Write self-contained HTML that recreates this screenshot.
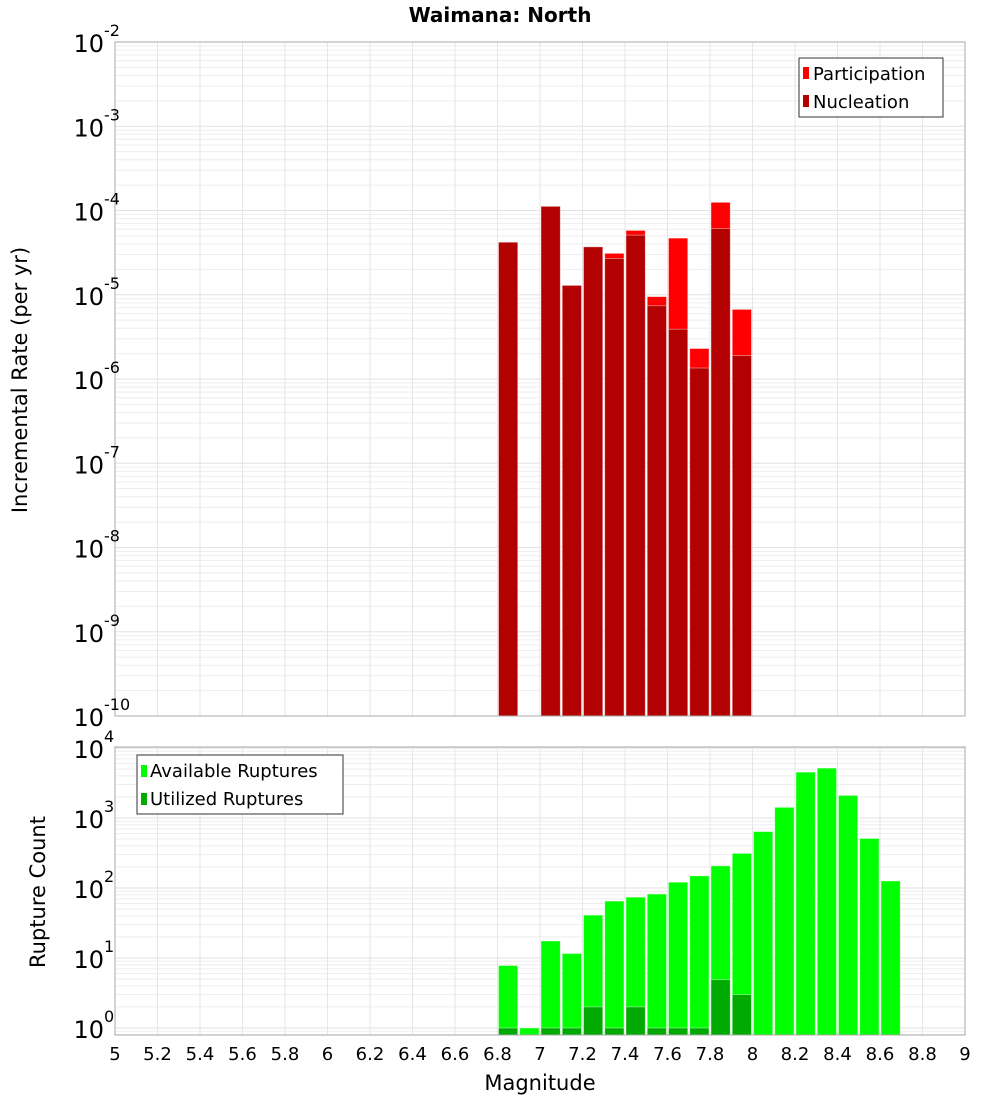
<!DOCTYPE html>
<html><head><meta charset="utf-8"><style>
body{margin:0;background:#fff;width:1000px;height:1100px;overflow:hidden}
svg{font-family:"DejaVu Sans","Liberation Sans",sans-serif}
</style></head><body>
<svg id="c" width="1000" height="1100">
<text x="500" y="22" text-anchor="middle" font-size="20" font-weight="bold">Waimana: North</text>
</svg>
<script>
const bins=[6.85,6.95,7.05,7.15,7.25,7.35,7.45,7.55,7.65,7.75,7.85,7.95,8.05,8.15,8.25,8.35,8.45,8.55,8.65];
const participation=[4.2e-5,0,1.12e-4,1.29e-5,3.7e-5,3.1e-5,5.8e-5,9.5e-6,4.7e-5,2.3e-6,1.25e-4,6.7e-6,0,0,0,0,0,0,0];
const nucleation=[4.2e-5,0,1.12e-4,1.29e-5,3.7e-5,2.7e-5,5.1e-5,7.4e-6,3.9e-6,1.35e-6,6.1e-5,1.9e-6,0,0,0,0,0,0,0];
const available=[7.8,1,17.5,11.6,41,65,74,82,121,149,207,312,640,1420,4520,5160,2100,510,126];
const utilized=[1,0,1,1,2,1,2,1,1,1,4.9,3,0,0,0,0,0,0,0];
const xTicks=[5,5.2,5.4,5.6,5.8,6,6.2,6.4,6.6,6.8,7,7.2,7.4,7.6,7.8,8,8.2,8.4,8.6,8.8,9];
const topExp=[-2,-3,-4,-5,-6,-7,-8,-9,-10];
const botExp=[4,3,2,1,0];
const svg=document.getElementById('c');const NS='http://www.w3.org/2000/svg';
function mk(t,a,p){const e=document.createElementNS(NS,t);for(const k in a)e.setAttribute(k,a[k]);(p||svg).appendChild(e);return e;}
const X0=115,X1=965;
const xs=v=>X0+(v-5)/4*(X1-X0);
const T0=42,T1=716; const ty=v=>T0+(-2-Math.log10(v))*(T1-T0)/8;
const B0=747,B1=1035; const by=v=>748+(4-Math.log10(v))*70;
function grid(y0,y1,emax,emin,yf){
 for(let e=emin;e<emax+1;e++)for(let m=1;m<10;m++){const v=m*Math.pow(10,e);const y=yf(v);if(y<y0||y>y1)continue;
  const l=mk('line',{x1:X0,x2:X1,y1:y,y2:y,stroke:m==1?'#e2e2e2':'#eeeeee','stroke-width':1});
  
  }
 xTicks.forEach(t=>{const l=mk('line',{x1:xs(t),x2:xs(t),y1:y0,y2:y1,stroke:'#e6e6e6'});
  
  });
}
grid(T0,T1,-2,-11,ty);grid(B0,B1,4,-1,by);
const bw=(X1-X0)/40;
function bar(c,val,yf,ybot,col,name){if(!val)return;const y=Math.max(yf(val),0);
 const r=mk('rect',{x:xs(c)-bw/2+1,y:y,width:bw-2,height:ybot-y,fill:col,stroke:'rgba(255,255,255,0.5)','stroke-width':0.8});
 
 }
bins.forEach((c,i)=>{bar(c,participation[i],ty,T1,'#ff0000','participation-bar');bar(c,nucleation[i],ty,T1,'#b30000','nucleation-bar');
 bar(c,available[i],by,B1,'#00ff00','available-bar');bar(c,utilized[i],by,B1,'#00aa00','utilized-bar');});
[[T0,T1],[B0,B1]].forEach(([a,b])=>{const r=mk('rect',{x:X0,y:a,width:X1-X0,height:b-a,fill:'none',stroke:'#aaaaaa'});
 
 });
function ylab(e,y,name){const t=mk('text',{x:104,y:y+10,'text-anchor':'end','font-size':24});t.textContent='10';
 
 
 const s=mk('text',{x:104,y:y-6,'font-size':16});s.textContent=String(e);
 
 }
topExp.forEach(e=>ylab(e,ty(Math.pow(10,e)),'top-y-tick'));
botExp.forEach(e=>ylab(e,by(Math.pow(10,e)),'bottom-y-tick'));
xTicks.forEach(t=>{const l=mk('text',{x:xs(t),y:1060,'text-anchor':'middle','font-size':18});l.textContent=String(t);
 
 });
</script>
<svg style="position:absolute;left:0;top:0" width="1000" height="1100">
<g font-family="DejaVu Sans, Liberation Sans, sans-serif">
<text x="540" y="1090" text-anchor="middle" font-size="21">Magnitude</text>
<text transform="translate(27,380) rotate(-90)" text-anchor="middle" font-size="21">Incremental Rate (per yr)</text>
<text transform="translate(45,892) rotate(-90)" text-anchor="middle" font-size="21">Rupture Count</text>
<g>
<rect x="799" y="58" width="144" height="59" fill="#fff" stroke="#333"/>
<rect x="803" y="67" width="6" height="12" fill="#ff0000"/><text x="813" y="80" font-size="18">Participation</text>
<rect x="803" y="95" width="6" height="12" fill="#b30000"/><text x="813" y="108" font-size="18">Nucleation</text>
</g>
<g>
<rect x="137" y="755" width="206" height="59" fill="#fff" stroke="#333"/>
<rect x="141" y="765" width="6" height="12" fill="#00ff00"/><text x="150" y="777" font-size="18">Available Ruptures</text>
<rect x="141" y="793" width="6" height="12" fill="#00aa00"/><text x="150" y="805" font-size="18">Utilized Ruptures</text>
</g>
</g>
</svg>
</body></html>
